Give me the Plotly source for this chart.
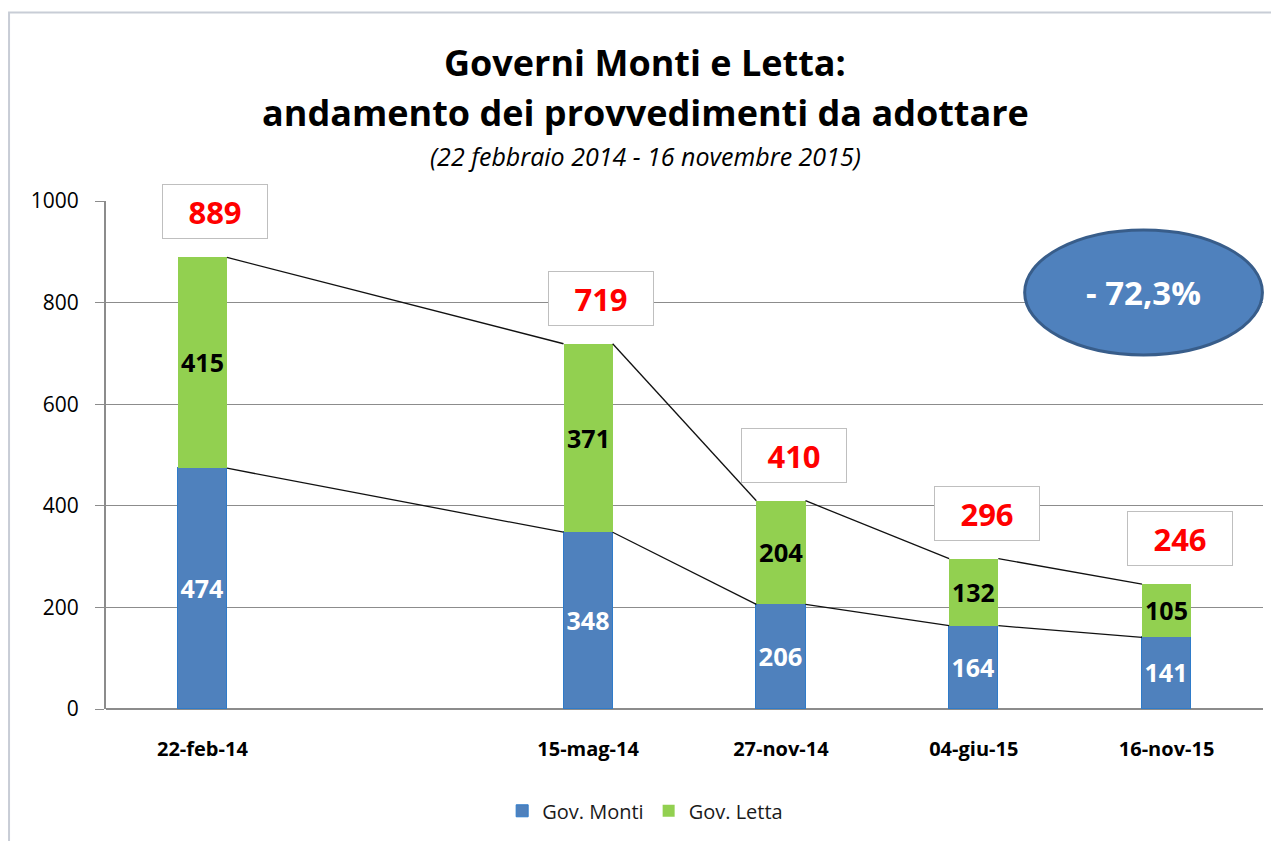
import plotly.graph_objects as go

# ---- data ----
categories = ["22-feb-14", "15-mag-14", "27-nov-14", "04-giu-15", "16-nov-15"]
cat_pos = [0, 2, 3, 4, 5]          # category slots (slot 1 is an empty category)
monti = [474, 348, 206, 164, 141]
letta = [415, 371, 204, 132, 105]
totals = [m + l for m, l in zip(monti, letta)]
y_ticks = [0, 200, 400, 600, 800, 1000]
change_label = "- 72,3%"

BLUE = "#4F81BD"
GREEN = "#92D050"
FONT = "Open Sans"
BAR_W = 0.255

fig = go.Figure()

fig.add_trace(go.Bar(
    x=cat_pos, y=monti, name="Gov. Monti", width=BAR_W,
    marker=dict(color=BLUE, line=dict(color="#2F7BC9", width=1)),
    text=[str(v) for v in monti], textposition="inside", insidetextanchor="middle",
    textfont=dict(family=FONT, size=26, color="white", weight="bold"),
    textangle=0,
))
fig.add_trace(go.Bar(
    x=cat_pos, y=letta, name="Gov. Letta", width=BAR_W,
    marker=dict(color=GREEN, line=dict(color=GREEN, width=0)),
    text=[str(v) for v in letta], textposition="inside", insidetextanchor="middle",
    textfont=dict(family=FONT, size=26, color="black", weight="bold"),
    textangle=0,
))

# series lines (right edge of one bar to left edge of the next)
for level in (monti, totals):
    for i in range(len(cat_pos) - 1):
        fig.add_trace(go.Scatter(
            x=[cat_pos[i] + BAR_W / 2, cat_pos[i + 1] - BAR_W / 2],
            y=[level[i], level[i + 1]],
            mode="lines", line=dict(color="#111111", width=1.3),
            showlegend=False, hoverinfo="skip",
        ))

# total boxes
for x, t in zip(cat_pos, totals):
    fig.add_annotation(
        x=x, y=t, xref="x", yref="y", text=f"<b>{t}</b>", showarrow=False,
        xshift=13, yshift=18, yanchor="bottom", xanchor="center",
        font=dict(family=FONT, size=31, color="#FF0000"),
        bgcolor="white", bordercolor="#BFBFBF", borderwidth=1,
        width=104, height=53, borderpad=0,
    )

# titles
fig.add_annotation(x=0.466, y=1.273, xref="paper", yref="paper", showarrow=False,
                   xanchor="center", yanchor="middle",
                   text="<b>Governi Monti e Letta:</b>",
                   font=dict(family=FONT, size=36, color="black"))
fig.add_annotation(x=0.466, y=1.175, xref="paper", yref="paper", showarrow=False,
                   xanchor="center", yanchor="middle",
                   text="<b>andamento dei provvedimenti da adottare</b>",
                   font=dict(family=FONT, size=36, color="black"))
fig.add_annotation(x=0.466, y=1.088, xref="paper", yref="paper", showarrow=False,
                   xanchor="center", yanchor="middle",
                   text="<i>(22 febbraio 2014 - 16 novembre 2015)</i>",
                   font=dict(family=FONT, size=25, color="black"))

# ellipse with percentage
fig.add_shape(type="circle", xref="paper", yref="paper",
              x0=0.794, x1=0.9995, y0=0.697, y1=0.943,
              fillcolor=BLUE, line=dict(color="#385D8A", width=3))
fig.add_annotation(x=0.897, y=0.82, xref="paper", yref="paper", showarrow=False,
                   xanchor="center", yanchor="middle",
                   text=f"<b>{change_label}</b>",
                   font=dict(family=FONT, size=33, color="white"))

# outer frame (top and left edges visible)
fig.add_shape(type="rect", xref="paper", yref="paper",
              x0=-0.0838, x1=1.2, y0=-0.5, y1=1.371,
              line=dict(color="#C8CDD6", width=2), fillcolor="rgba(0,0,0,0)",
              layer="below")

fig.update_layout(
    width=1271, height=833,
    margin=dict(l=98, r=16, t=193, b=131),
    paper_bgcolor="white", plot_bgcolor="white",
    barmode="stack", bargap=0,
    font=dict(family=FONT, color="black"),
    showlegend=True,
    legend=dict(orientation="h", x=0.466, xanchor="center", y=-0.198, yanchor="middle",
                font=dict(family=FONT, size=20, color="#1a1a1a"),
                traceorder="normal", itemwidth=30),
    xaxis=dict(range=[-0.5, 5.5], tickmode="array", tickvals=cat_pos,
               ticktext=[f"<b>{c}</b>" for c in categories],
               tickfont=dict(family=FONT, size=20, color="black"),
               showgrid=False, zeroline=False, showline=False, ticks="",
               ticklabelstandoff=26, fixedrange=True),
    yaxis=dict(range=[0, 1000], tickmode="array", tickvals=y_ticks,
               tickfont=dict(family=FONT, size=21, color="black"),
               showgrid=True, gridcolor="#8C8C8C", gridwidth=1,
               zeroline=True, zerolinecolor="#8C8C8C", zerolinewidth=2,
               showline=True, linecolor="#8C8C8C", linewidth=2,
               ticks="outside", ticklen=9, tickcolor="#8C8C8C",
               ticklabelstandoff=12, fixedrange=True),
)

fig.write_html("out.html")
